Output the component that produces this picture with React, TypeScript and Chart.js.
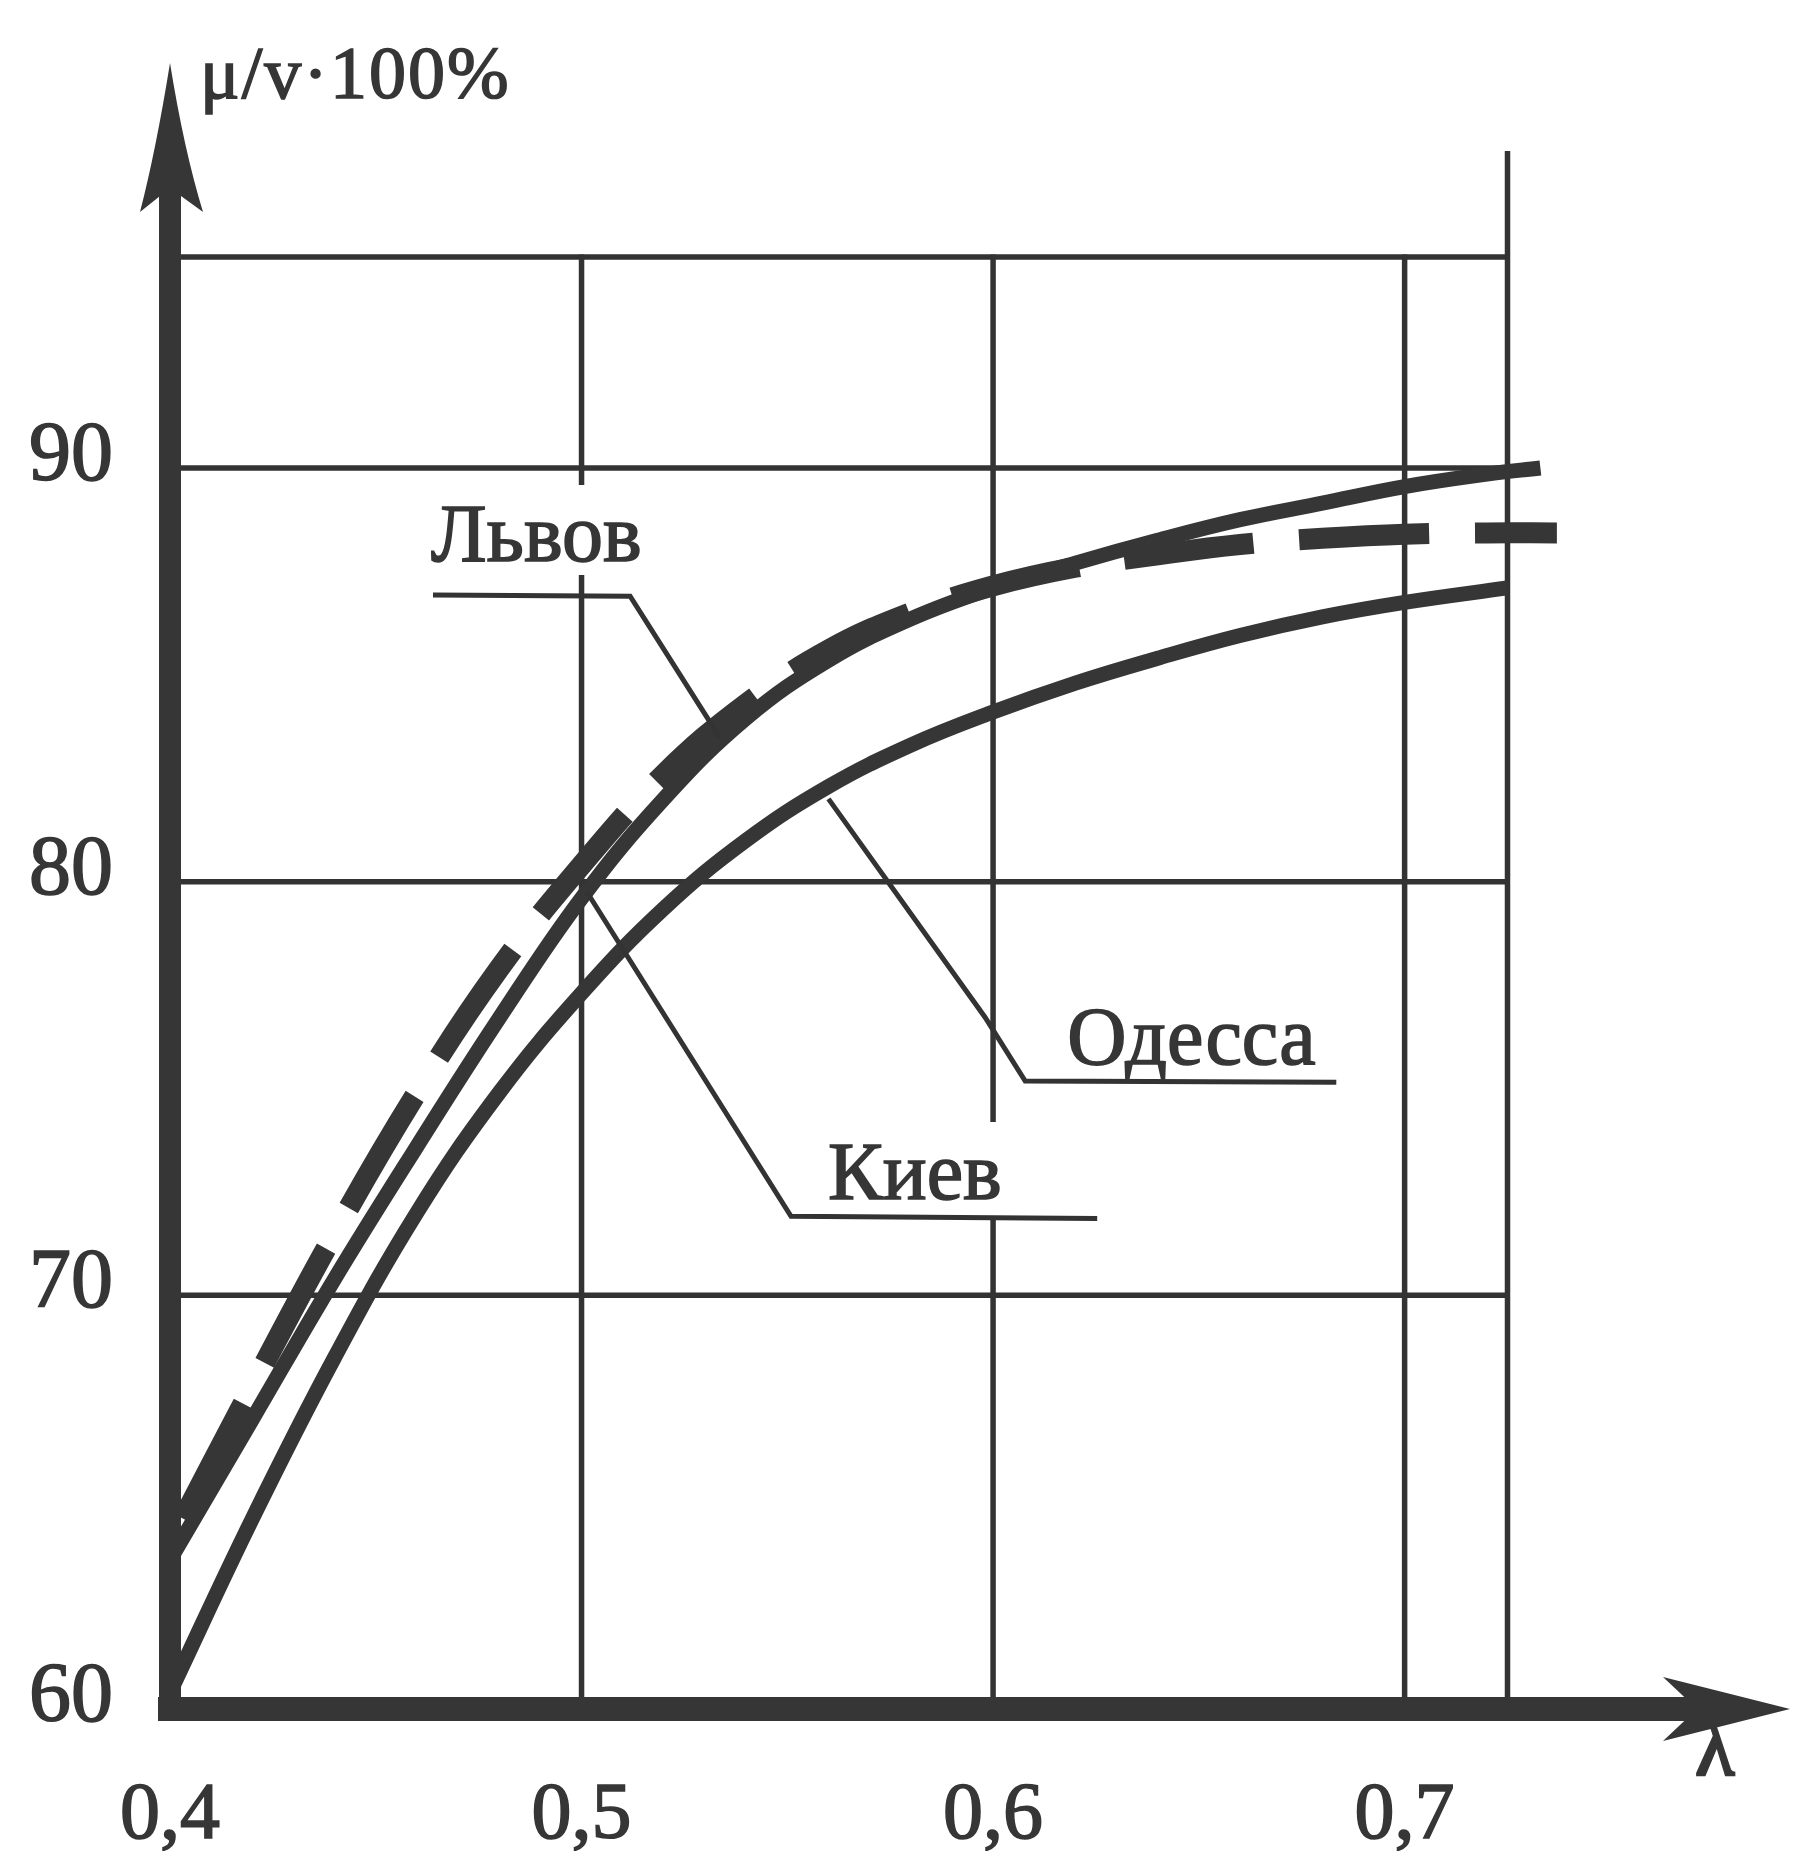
import React, { useEffect, useRef } from 'react';
import { Chart, registerables } from 'chart.js';

Chart.register(...registerables);

// ---- data ----
const kievX = [0.40, 0.42, 0.44, 0.46, 0.48, 0.50, 0.52, 0.54, 0.56, 0.58, 0.60, 0.62, 0.64, 0.66, 0.68, 0.70, 0.72, 0.733];
const kievY = [63.6, 67.0, 70.4, 73.6, 76.7, 79.6, 82.0, 83.95, 85.35, 86.35, 87.1, 87.7, 88.25, 88.75, 89.15, 89.55, 89.85, 90.0];

const lvovX = [0.40, 0.42, 0.44, 0.46, 0.48, 0.50, 0.52, 0.54, 0.56, 0.58, 0.60, 0.62, 0.64, 0.66, 0.68, 0.70, 0.72, 0.737];
const lvovY = [64.0, 67.8, 71.5, 74.9, 77.9, 80.4, 82.6, 84.3, 85.6, 86.5, 87.15, 87.6, 87.9, 88.15, 88.3, 88.4, 88.43, 88.43];

const odessaX = [0.40, 0.42, 0.44, 0.46, 0.48, 0.50, 0.52, 0.54, 0.56, 0.58, 0.60, 0.62, 0.64, 0.66, 0.68, 0.70, 0.725];
const odessaY = [60.4, 64.6, 68.5, 72.0, 74.9, 77.3, 79.35, 81.0, 82.3, 83.3, 84.1, 84.8, 85.4, 85.95, 86.4, 86.75, 87.1];

const seriesNames = ['Львов', 'Киев', 'Одесса'];

const xTickValues = [0.4, 0.5, 0.6, 0.7];
const xTickLabels = ['0,4', '0,5', '0,6', '0,7'];
const yTickValues = [60, 70, 80, 90];
const yTickLabels = ['60', '70', '80', '90'];

const vGridValues = [0.5, 0.6, 0.7, 0.725];
const hGridValues = [70, 80, 90, 95.1];
const frameTop = 95.1;
const frameRight = 0.725;
const rightLineTop = 97.6;
const gridGaps = [
  { x: 0.5, from: 87.41, to: 89.59 },
  { x: 0.6, from: 71.91, to: 74.19 },
];

const yTitle = 'μ/v·100%';
const xTitle = 'λ';

// label annotations (data coordinates)
const lvovLabelAt = [0.4634, 87.75];
const lvovLeader = [[0.4639, 86.93], [0.5118, 86.9], [0.5335, 83.5]];
const kievLabelAt = [0.5599, 72.32];
const kievLeader = [[0.5013, 79.75], [0.5509, 71.91], [0.6253, 71.86]];
const odessaLabelAt = [0.618, 75.59];
const odessaLeader = [[0.560, 82.0], [0.598, 76.73], [0.6078, 75.18], [0.6834, 75.15]];

const INK = '#363636';
const GRID = '#333333';
const SERIF = '"Liberation Serif", "DejaVu Serif", serif';

const decor = {
  id: 'decor',
  beforeDraw(chart: any) {
    const ctx = chart.ctx;
    ctx.save();
    ctx.fillStyle = '#ffffff';
    ctx.fillRect(0, 0, chart.width, chart.height);
    ctx.restore();
  },
  beforeDatasetsDraw(chart: any) {
    const { ctx } = chart;
    const xs = chart.scales.x;
    const ys = chart.scales.y;
    const px = (v: number) => xs.getPixelForValue(v);
    const py = (v: number) => ys.getPixelForValue(v);
    ctx.save();
    ctx.strokeStyle = GRID;
    ctx.lineWidth = 5.5;
    ctx.lineCap = 'butt';
    const seg = (x1: number, y1: number, x2: number, y2: number) => {
      ctx.beginPath();
      ctx.moveTo(x1, y1);
      ctx.lineTo(x2, y2);
      ctx.stroke();
    };
    for (const v of hGridValues) seg(px(0.4), py(v), px(frameRight) + 2.5, py(v));
    for (const v of vGridValues) {
      const top = v === frameRight ? rightLineTop : frameTop;
      const gap = gridGaps.find((g) => g.x === v);
      if (gap) {
        seg(px(v), py(60), px(v), py(gap.from));
        seg(px(v), py(gap.to), px(v), py(top) - 2.5);
      } else {
        seg(px(v), py(60), px(v), py(top) - 2.5);
      }
    }
    ctx.restore();
  },
  afterDatasetsDraw(chart: any) {
    const { ctx } = chart;
    const xs = chart.scales.x;
    const ys = chart.scales.y;
    const px = (v: number) => xs.getPixelForValue(v);
    const py = (v: number) => ys.getPixelForValue(v);
    const ax = px(0.4);
    const ay = py(60);
    ctx.save();
    ctx.fillStyle = INK;
    // y axis
    ctx.fillRect(ax - 11, 185, 22, ay + 12 - 185);
    ctx.beginPath();
    ctx.moveTo(ax, 63);
    ctx.quadraticCurveTo(ax - 14, 150, ax - 30, 212);
    ctx.lineTo(ax, 188);
    ctx.lineTo(ax + 33, 212);
    ctx.quadraticCurveTo(ax + 14, 150, ax, 63);
    ctx.closePath();
    ctx.fill();
    // x axis
    ctx.fillRect(ax - 12, ay - 12, 1700 - (ax - 12), 24);
    ctx.beginPath();
    ctx.moveTo(1790, ay);
    ctx.lineTo(1663, ay - 32);
    ctx.lineTo(1697, ay);
    ctx.lineTo(1663, ay + 32);
    ctx.closePath();
    ctx.fill();

    // leader lines
    ctx.strokeStyle = GRID;
    ctx.lineWidth = 5;
    ctx.lineJoin = 'miter';
    for (const pts of [lvovLeader, kievLeader, odessaLeader]) {
      ctx.beginPath();
      pts.forEach((p, i) => {
        const X = px(p[0]);
        const Y = py(p[1]);
        if (i === 0) ctx.moveTo(X, Y);
        else ctx.lineTo(X, Y);
      });
      ctx.stroke();
    }

    // text helper (slightly heavier, like the printed original)
    const text = (s: string, x: number, y: number) => {
      ctx.fillText(s, x, y);
      ctx.strokeText(s, x, y);
    };
    ctx.fillStyle = INK;
    ctx.strokeStyle = INK;
    ctx.lineWidth = 1.6;
    ctx.font = `82px ${SERIF}`;
    ctx.textAlign = 'left';
    ctx.textBaseline = 'alphabetic';
    text(seriesNames[0], px(lvovLabelAt[0]), py(lvovLabelAt[1]));
    text(seriesNames[1], px(kievLabelAt[0]), py(kievLabelAt[1]));
    text(seriesNames[2], px(odessaLabelAt[0]), py(odessaLabelAt[1]));

    // axis titles
    ctx.font = `74px ${SERIF}`;
    (ctx as any).letterSpacing = '2px';
    text(yTitle, ax + 30, 98);
    (ctx as any).letterSpacing = '0px';
    ctx.font = `80px ${SERIF}`;
    ctx.textAlign = 'center';
    ctx.lineWidth = 3;
    text(xTitle, xs.right - 60, 1775);
    ctx.restore();
  },
};

export default function App() {
  const ref = useRef<HTMLCanvasElement | null>(null);
  useEffect(() => {
    if (!ref.current) return;
    const mk = (xv: number[], yv: number[]) => xv.map((v, i) => ({ x: v, y: yv[i] }));
    const chart = new Chart(ref.current, {
      type: 'line',
      data: {
        datasets: [
          {
            label: seriesNames[0],
            data: mk(lvovX, lvovY),
            borderColor: INK,
            borderWidth: 21,
            borderDash: [130, 46],
            borderDashOffset: 148,
            borderCapStyle: 'butt',
            pointRadius: 0,
            tension: 0.4,
            fill: false,
          },
          {
            label: seriesNames[1],
            data: mk(kievX, kievY),
            borderColor: INK,
            borderWidth: 15,
            pointRadius: 0,
            tension: 0.4,
            fill: false,
          },
          {
            label: seriesNames[2],
            data: mk(odessaX, odessaY),
            borderColor: INK,
            borderWidth: 15,
            pointRadius: 0,
            tension: 0.4,
            fill: false,
          },
        ],
      },
      options: {
        responsive: false,
        animation: false,
        devicePixelRatio: 1,
        layout: { padding: { left: 0, top: 257, right: 23, bottom: 0 } },
        plugins: { legend: { display: false }, tooltip: { enabled: false }, title: { display: false } },
        scales: {
          x: {
            type: 'linear',
            min: 0.4,
            max: 0.79,
            grid: { display: false, drawTicks: false },
            border: { display: false },
            afterBuildTicks: (s: any) => {
              s.ticks = xTickValues.map((v) => ({ value: v }));
            },
            afterFit: (s: any) => {
              s.height = 142;
            },
            ticks: {
              autoSkip: false,
              maxRotation: 0,
              minRotation: 0,
              padding: 60,
              color: INK,
              textStrokeColor: INK,
              textStrokeWidth: 1.6,
              font: { family: SERIF, size: 80 },
              callback: (_v: any, i: number) => xTickLabels[i],
            },
          },
          y: {
            type: 'linear',
            min: 60,
            max: 95.1,
            grid: { display: false, drawTicks: false },
            border: { display: false },
            afterBuildTicks: (s: any) => {
              s.ticks = yTickValues.map((v) => ({ value: v }));
            },
            afterFit: (s: any) => {
              s.width = 170;
            },
            ticks: {
              autoSkip: false,
              padding: 57,
              labelOffset: -10,
              color: INK,
              textStrokeColor: INK,
              textStrokeWidth: 1.6,
              font: { family: SERIF, size: 84 },
              callback: (_v: any, i: number) => yTickLabels[i],
            },
          },
        },
      } as any,
      plugins: [decor],
    });
    return () => chart.destroy();
  }, []);
  return (
    <div style={{ position: 'absolute', left: 0, top: 0, width: 1798, height: 1851, background: '#fff' }}>
      <canvas ref={ref} width={1798} height={1851} style={{ display: 'block', width: 1798, height: 1851 }} />
    </div>
  );
}
